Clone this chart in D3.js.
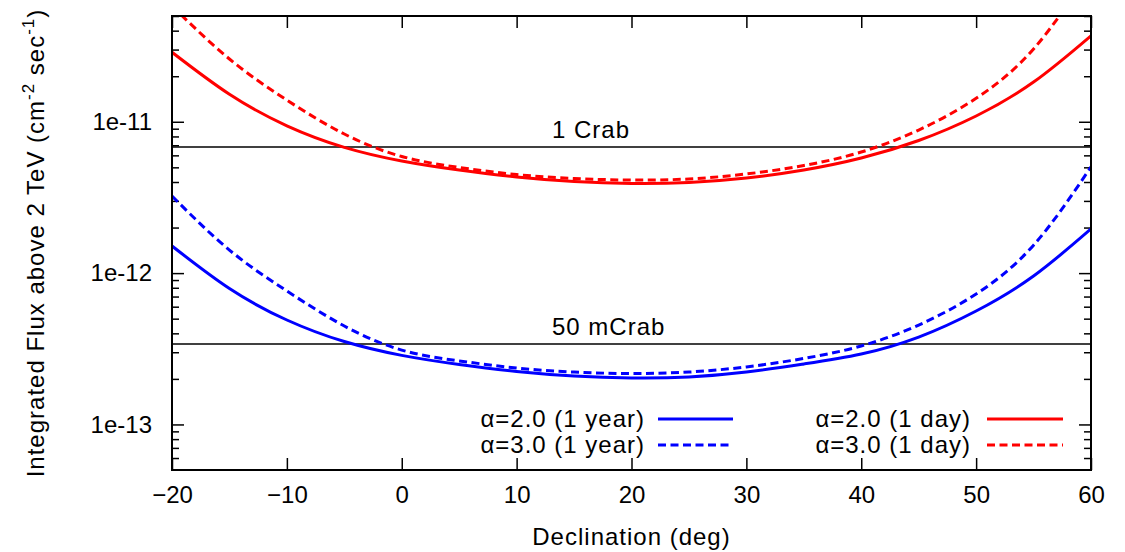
<!DOCTYPE html>
<html>
<head>
<meta charset="utf-8">
<script src="https://cdn.jsdelivr.net/npm/d3@7"></script>
<style>
  html, body { margin: 0; padding: 0; background: #fff; }
  svg { display: block; }
  text { font-family: "Liberation Sans", Arial, Helvetica, sans-serif; fill: #000; }
</style>
</head>
<body>
<svg id="chart" width="1125" height="552"></svg>
<script>
// ---- data ----
const declination = [-20, -15, -10, -5, 0, 5, 10, 15, 20, 25, 30, 35, 40, 45, 50, 55, 60];
const dayAlpha2  = [2.88e-11, 1.52e-11, 9.41e-12, 6.78e-12, 5.51e-12, 4.80e-12, 4.32e-12, 4.03e-12, 3.91e-12, 3.97e-12, 4.25e-12, 4.80e-12, 5.76e-12, 7.52e-12, 1.092e-11, 1.83e-11, 3.70e-11];
const dayAlpha3  = [5.82e-11, 2.60e-11, 1.39e-11, 8.30e-12, 5.90e-12, 4.99e-12, 4.48e-12, 4.22e-12, 4.12e-12, 4.19e-12, 4.52e-12, 5.14e-12, 6.31e-12, 8.82e-12, 1.43e-11, 3.03e-11, 1.01e-10];
const yearAlpha2 = [1.51e-12, 7.91e-13, 4.90e-13, 3.53e-13, 2.86e-13, 2.49e-13, 2.24e-13, 2.09e-13, 2.03e-13, 2.06e-13, 2.22e-13, 2.51e-13, 2.92e-13, 3.78e-13, 5.62e-13, 9.57e-13, 1.96e-12];
const yearAlpha3 = [3.23e-12, 1.42e-12, 7.62e-13, 4.47e-13, 3.10e-13, 2.63e-13, 2.36e-13, 2.22e-13, 2.17e-13, 2.22e-13, 2.40e-13, 2.73e-13, 3.30e-13, 4.54e-13, 7.28e-13, 1.53e-12, 5.03e-12];
const refLevels = [6.8e-12, 3.4e-13];
const refLabels = ["1 Crab", "50 mCrab"];
const xTicks = [-20, -10, 0, 10, 20, 30, 40, 50, 60];
const yMajorTicks = [1e-13, 1e-12, 1e-11];
const yTickLabels = ["1e-13", "1e-12", "1e-11"];
const seriesNames = ["\u03b1=2.0 (1 year)", "\u03b1=3.0 (1 year)", "\u03b1=2.0 (1 day)", "\u03b1=3.0 (1 day)"];
const seriesData = [yearAlpha2, yearAlpha3, dayAlpha2, dayAlpha3];
const seriesColors = ["#0000ff", "#0000ff", "#ff0000", "#ff0000"];
const seriesDashed = [false, true, false, true];

// ---- layout ----
const L = 172, R = 1091, T = 16, B = 470;
const svg = d3.select("#chart");
const x = d3.scaleLinear().domain([-20, 60]).range([L, R]);
const y = d3.scaleLog().domain([5e-14, 5e-11]).range([B, T]);

svg.append("defs").append("clipPath").attr("id", "clip")
  .append("rect").attr("x", L).attr("y", T).attr("width", R - L).attr("height", B - T);

// minor ticks for log axis
const yMinor = [];
for (let e = -14; e <= -11; e++) {
  for (let m = 2; m <= 9; m++) {
    const v = m * Math.pow(10, e);
    if (v > 5e-14 && v < 5e-11) yMinor.push(v);
  }
}

function styleAxis(g) {
  g.select(".domain").remove();
  g.selectAll(".tick line").attr("stroke", "#000").attr("stroke-width", 1.5);
  g.selectAll(".tick text").style("font-size", "24px").attr("fill", "#000");
}

// bottom axis
svg.append("g").attr("transform", `translate(0,${B})`)
  .call(d3.axisBottom(x).tickValues(xTicks).tickSize(-12).tickPadding(16).tickFormat(d3.format("d")))
  .call(styleAxis);
// top axis (mirror)
svg.append("g").attr("transform", `translate(0,${T})`)
  .call(d3.axisTop(x).tickValues(xTicks).tickSize(-12).tickFormat(""))
  .call(styleAxis);
// left axis
svg.append("g").attr("transform", `translate(${L},0)`)
  .call(d3.axisLeft(y).tickValues(yMajorTicks).tickSize(-12).tickPadding(20)
    .tickFormat((d, i) => yTickLabels[i]))
  .call(styleAxis);
svg.append("g").attr("transform", `translate(${L},0)`)
  .call(d3.axisLeft(y).tickValues(yMinor).tickSize(-7).tickFormat(""))
  .call(styleAxis);
// right axis (mirror)
svg.append("g").attr("transform", `translate(${R},0)`)
  .call(d3.axisRight(y).tickValues(yMajorTicks).tickSize(-12).tickFormat(""))
  .call(styleAxis);
svg.append("g").attr("transform", `translate(${R},0)`)
  .call(d3.axisRight(y).tickValues(yMinor).tickSize(-7).tickFormat(""))
  .call(styleAxis);

// reference lines
const plot = svg.append("g").attr("clip-path", "url(#clip)");
refLevels.forEach((lv, i) => {
  plot.append("line").attr("x1", L).attr("x2", R).attr("y1", y(lv)).attr("y2", y(lv))
    .attr("stroke", "#000").attr("stroke-width", 1.5);
  svg.append("text").attr("x", 552).attr("y", y(lv) - 9)
    .style("font-size", "24px").style("letter-spacing", "1px").text(refLabels[i]);
});

// curves
const line = d3.line().x((d, i) => x(declination[i])).y(d => y(d)).curve(d3.curveNatural);
seriesData.forEach((s, i) => {
  plot.append("path").datum(s).attr("d", line)
    .attr("fill", "none").attr("stroke", seriesColors[i]).attr("stroke-width", 3)
    .attr("stroke-dasharray", seriesDashed[i] ? "8,4.5" : null);
});

// legend
const legPos = [
  {tx: 645, lx1: 658, lx2: 733, y: 419},
  {tx: 645, lx1: 658, lx2: 733, y: 445},
  {tx: 971, lx1: 987, lx2: 1063, y: 419},
  {tx: 971, lx1: 987, lx2: 1063, y: 445}
];
seriesNames.forEach((name, i) => {
  const p = legPos[i];
  svg.append("text").attr("x", p.tx).attr("y", p.y + 8).attr("text-anchor", "end")
    .style("font-size", "24px").style("letter-spacing", "1px").text(name);
  svg.append("line").attr("x1", p.lx1).attr("x2", p.lx2).attr("y1", p.y).attr("y2", p.y)
    .attr("stroke", seriesColors[i]).attr("stroke-width", 3)
    .attr("stroke-dasharray", seriesDashed[i] ? "8,4.5" : null);
});

// frame
svg.append("rect").attr("x", L).attr("y", T).attr("width", R - L).attr("height", B - T)
  .attr("fill", "none").attr("stroke", "#000").attr("stroke-width", 2);

// axis titles
svg.append("text").attr("x", (L + R) / 2).attr("y", 545).attr("text-anchor", "middle")
  .style("font-size", "24px").style("letter-spacing", "1px").text("Declination (deg)");
const yl = svg.append("text").attr("transform", `translate(44,${(T + B) / 2}) rotate(-90)`)
  .attr("text-anchor", "middle").style("font-size", "24px").style("letter-spacing", "1px");
yl.append("tspan").text("Integrated Flux above 2 TeV (cm");
yl.append("tspan").attr("dy", -10).style("font-size", "17px").text("-2");
yl.append("tspan").attr("dy", 10).text(" sec");
yl.append("tspan").attr("dy", -10).style("font-size", "17px").text("-1");
yl.append("tspan").attr("dy", 10).text(")");
</script>
</body>
</html>
